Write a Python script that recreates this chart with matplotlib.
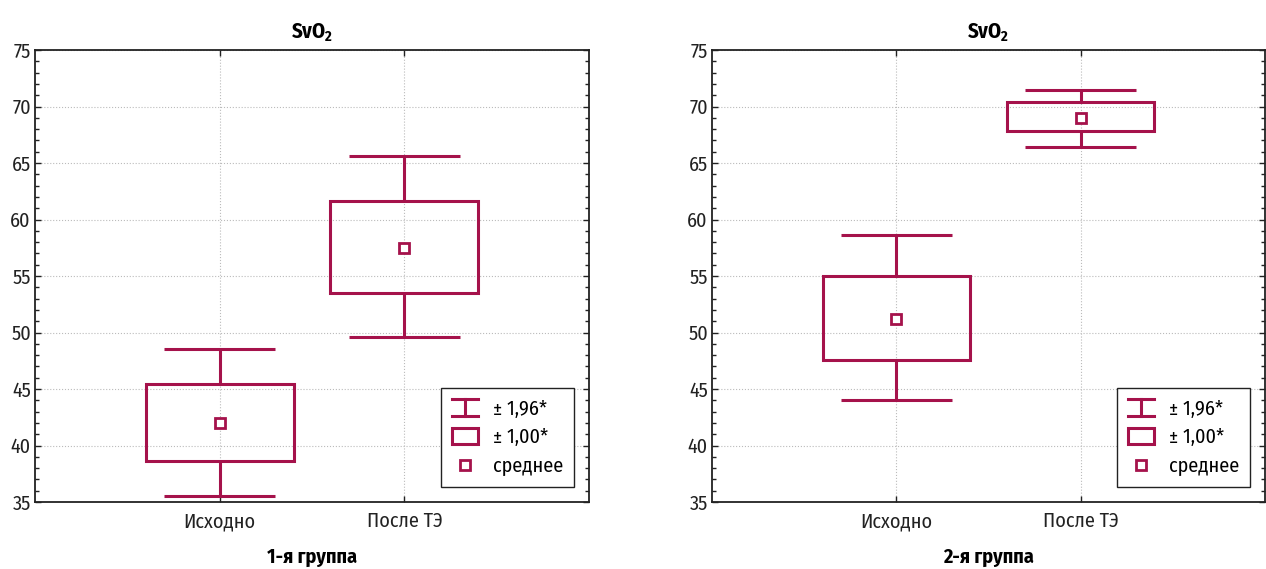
import matplotlib
matplotlib.use('Agg')
import matplotlib.pyplot as plt
from matplotlib import font_manager
from matplotlib.ft2font import FT2Font
from matplotlib.lines import Line2D
from matplotlib.patches import Rectangle
from matplotlib.legend_handler import HandlerBase
from matplotlib.ticker import MultipleLocator


def has_cyr(path):
    try:
        cm = FT2Font(path).get_charmap()
    except Exception:
        return False
    return all(ord(c) in cm for c in 'Исходняг±')


# the reference uses a condensed face; take one with Cyrillic if installed
narrow = None
for f in font_manager.fontManager.ttflist:
    n = f.name
    if ('Narrow' in n or 'Condensed' in n) and 'Mono' not in n and has_cyr(f.fname):
        narrow = n
        break
fam = narrow if narrow else 'Roboto'
plt.rcParams['font.family'] = [fam, 'DejaVu Sans']
plt.rcParams['mathtext.fontset'] = 'custom'
plt.rcParams['mathtext.bf'] = fam + ':bold'
plt.rcParams['mathtext.rm'] = fam

categories = ['Исходно', 'После ТЭ']
groups = ['1-я группа', '2-я группа']
means = [[42.0, 57.5], [51.2, 69.0]]
box_lo = [[38.65, 53.5], [47.6, 67.8]]
box_hi = [[45.4, 61.6], [55.0, 70.4]]
whisk_lo = [[35.5, 49.6], [44.0, 66.4]]
whisk_hi = [[48.5, 65.6], [58.6, 71.5]]
legend_labels = ['± 1,96*', '± 1,00*', 'среднее']

col = '#a5124b'
lw = 2.2


class WhiskerHandler(HandlerBase):
    def create_artists(self, legend, orig, xd, yd, w, h, fontsize, trans):
        x0, x1 = xd, xd + w
        xm = xd + w / 2
        y0, y1 = yd - h * 0.1, yd + h * 1.1
        arts = [Line2D([x0, x1], [y0, y0]), Line2D([x0, x1], [y1, y1]),
                Line2D([xm, xm], [y0, y1])]
        for a in arts:
            a.set_color(col)
            a.set_linewidth(lw)
            a.set_transform(trans)
        return arts


class BoxHandler(HandlerBase):
    def create_artists(self, legend, orig, xd, yd, w, h, fontsize, trans):
        r = Rectangle((xd, yd - h * 0.05), w, h * 1.1, fill=False,
                      edgecolor=col, linewidth=lw, transform=trans)
        return [r]


fig = plt.figure(figsize=(12.66, 5.69), dpi=100)
W, H = 1266, 569
axes = [fig.add_axes([35 / W, (H - 502) / H, 554 / W, 452 / H]),
        fig.add_axes([712 / W, (H - 502) / H, 553 / W, 452 / H])]
boxw = 0.8
capw = 0.6

for g, ax in enumerate(axes):
    pos = [1, 2]
    for i, p in enumerate(pos):
        ax.vlines(p, whisk_lo[g][i], box_lo[g][i], color=col, lw=lw, zorder=3)
        ax.vlines(p, box_hi[g][i], whisk_hi[g][i], color=col, lw=lw, zorder=3)
        ax.hlines([whisk_lo[g][i], whisk_hi[g][i]], p - capw / 2, p + capw / 2,
                  color=col, lw=lw, zorder=3)
        ax.add_patch(Rectangle((p - boxw / 2, box_lo[g][i]), boxw,
                               box_hi[g][i] - box_lo[g][i], fill=False,
                               edgecolor=col, lw=lw, zorder=3))
    ax.plot(pos, means[g], 's', ms=6.5, mfc='white', mec=col, mew=2, zorder=4)

    ax.set_xlim(0, 3)
    ax.set_ylim(35, 75)
    ax.set_xticks(pos)
    ax.set_xticklabels(categories)
    ax.yaxis.set_major_locator(MultipleLocator(5))
    ax.yaxis.set_minor_locator(MultipleLocator(1))
    ax.tick_params(which='both', direction='in', top=True, right=True,
                   colors='#222222', labelsize=14.5)
    ax.tick_params(which='major', length=4, width=1)
    ax.tick_params(which='minor', length=3, width=1)
    ax.tick_params(axis='x', pad=7)
    ax.tick_params(axis='y', pad=3)
    ax.grid(True, which='major', color='#bbbbbb', ls=':', lw=0.8)
    for s in ax.spines.values():
        s.set_linewidth(1.3)
        s.set_color('#222222')
    ax.set_title(r'$\mathbf{SvO_2}$', fontsize=15, pad=8)
    ax.set_xlabel(groups[g], fontsize=14.5, fontweight='bold', labelpad=12)

    handles = [object(), Rectangle((0, 0), 1, 1),
               Line2D([], [], ls='none', marker='s', ms=6.5, mfc='white', mec=col, mew=2)]
    leg = ax.legend(handles, legend_labels, loc='lower right',
                    handler_map={object: WhiskerHandler(), Rectangle: BoxHandler()},
                    fontsize=14.5, frameon=True, fancybox=False, edgecolor='#222222',
                    framealpha=1, handlelength=1.3, handletextpad=0.7,
                    labelspacing=0.45, borderpad=0.55, borderaxespad=0.75)
    leg.get_frame().set_linewidth(1.0)

fig.savefig('out.png', dpi=100)
